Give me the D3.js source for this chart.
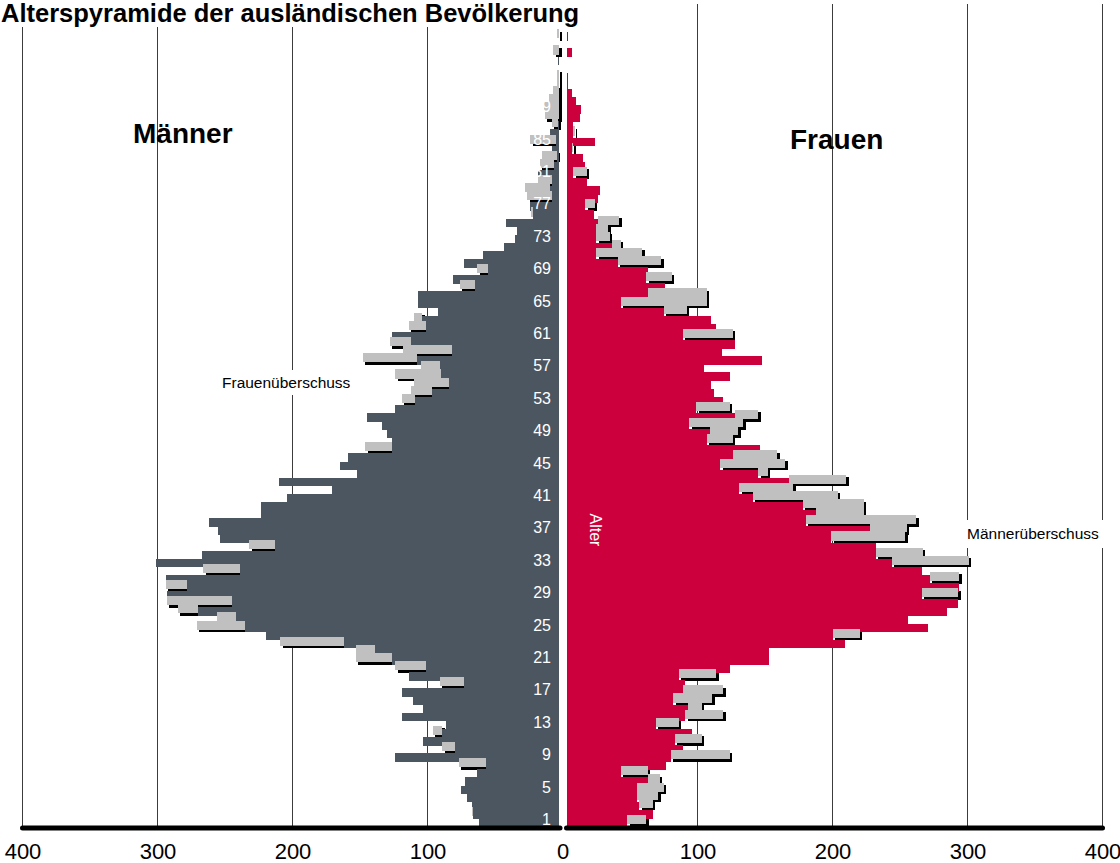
<!DOCTYPE html>
<html lang="de">
<head>
<meta charset="UTF-8">
<title>Alterspyramide der ausländischen Bevölkerung</title>
<script src="https://d3js.org/d3.v7.min.js"></script>
<style>
    body { margin: 0; background: #fff; font-family: "Liberation Sans", Arial, sans-serif; }
    svg { display: block; }
    .grid line { stroke: #3c3c3c; stroke-width: 1; }
    .bars rect { shape-rendering: crispEdges; }
    .age-label { fill: #fff; font-size: 16px; text-anchor: end; }
    .tick text { font-size: 22px; fill: #000; font-family: "Liberation Sans", Arial, sans-serif; }
    .side-title { font-size: 28px; font-weight: bold; }
    .note { font-size: 15.5px; }
</style>
</head>
<body>
<svg id="chart" width="1120" height="863"></svg>
<script>
// ages 1..98, one bar per age
const ages = d3.range(1, 99);
// foreign men per age (left side)
const men = [
    62, 66, 67, 71, 75, 72, 63, 57, 124, 80,
    103, 89, 86, 119, 103, 111, 119, 73, 114, 101,
    126, 139, 162, 220, 235, 242, 270, 245, 293, 278,
    294, 239, 301, 267, 213, 254, 255, 262, 223, 223,
    204, 171, 210, 152, 165, 159, 126, 126, 130, 134,
    145, 124, 109, 97, 84, 90, 91, 108, 82, 112,
    126, 101, 104, 92, 107, 107, 65, 81, 55, 73,
    59, 43, 35, 34, 42, 22, 24, 8, 9, 8,
    18, 6, 4, 8, 5, 9, 3, 2, 2, 2,
    1, 1, 1, 0, 3, 1, 2, 0
];
// foreign women per age (right side)
const women = [
    48, 67, 57, 55, 55, 63, 43, 77, 80, 89,
    83, 96, 69, 91, 93, 82, 89, 91, 86, 124,
    153, 153, 209, 200, 271, 256, 285, 293, 266, 294,
    272, 266, 244, 232, 232, 199, 228, 180, 188, 178,
    141, 131, 168, 145, 117, 126, 146, 107, 109, 94,
    128, 99, 119, 112, 110, 124, 105, 148, 118, 128,
    89, 114, 110, 75, 43, 63, 76, 62, 63, 41,
    25, 37, 25, 25, 26, 23, 17, 26, 28, 18,
    8, 17, 15, 7, 24, 8, 8, 13, 14, 10,
    7, 4, 4, 2, 2, 7, 1, 4
];
const ageLabels = d3.range(1, 99, 4);
const tickValues = [0, 100, 200, 300, 400];

const data = ages.map((a, i) => ({age: a, m: men[i], w: women[i]}));

const svg = d3.select("#chart");
const baseY = 826;
const rowH = 8.1;
const mid = 562.5;

const y = d3.scaleBand()
    .domain(ages)
    .range([baseY, baseY - ages.length * rowH])
    .padding(0);

const xL = d3.scaleLinear().domain([0, 400]).range([mid, 22.5]);
const xR = d3.scaleLinear().domain([0, 400]).range([mid, 1102.5]);
const leftEdge = mid - 3.5;   // dark bars stop here
const rightEdge = mid + 4;    // red bars start here
const barH = y.bandwidth() + 0.6; // slight overlap, no seams between rows

// gridlines
const grid = svg.append("g").attr("class", "grid");
tickValues.slice(1).forEach(v => {
    grid.append("line").attr("x1", xL(v)).attr("x2", xL(v)).attr("y1", 4).attr("y2", baseY);
    grid.append("line").attr("x1", xR(v)).attr("x2", xR(v)).attr("y1", 4).attr("y2", baseY);
});

// shadows of the surplus bars
const grayY = d => y(d.age) - 3;
const grayH = y.bandwidth() + 1;
const leftSurplus = data.filter(d => d.w > d.m);
const rightSurplus = data.filter(d => d.m > d.w);

svg.append("g").attr("class", "bars").selectAll("rect").data(leftSurplus).join("rect")
    .attr("x", d => xL(d.w) + 2.5)
    .attr("y", d => grayY(d) + 2.5)
    .attr("width", d => Math.min(xL(d.m), leftEdge) - xL(d.w))
    .attr("height", grayH)
    .attr("fill", "#000");
svg.append("g").attr("class", "bars").selectAll("rect").data(rightSurplus).join("rect")
    .attr("x", d => Math.max(xR(d.w), rightEdge) + 2.5)
    .attr("y", d => grayY(d) + 2.5)
    .attr("width", d => xR(d.m) - Math.max(xR(d.w), rightEdge))
    .attr("height", grayH)
    .attr("fill", "#000");

// men bars
svg.append("g").attr("class", "bars").selectAll("rect").data(data).join("rect")
    .attr("x", d => xL(d.m))
    .attr("y", d => y(d.age))
    .attr("width", d => Math.max(0, leftEdge - xL(d.m)))
    .attr("height", barH)
    .attr("fill", "#4c5661");

// women bars
svg.append("g").attr("class", "bars").selectAll("rect").data(data).join("rect")
    .attr("x", rightEdge)
    .attr("y", d => y(d.age))
    .attr("width", d => Math.max(0, xR(d.w) - rightEdge))
    .attr("height", barH)
    .attr("fill", "#cc003c");

// surplus bars: women surplus mirrored on the left, men surplus on the right
svg.append("g").attr("class", "bars").selectAll("rect").data(leftSurplus).join("rect")
    .attr("x", d => xL(d.w))
    .attr("y", grayY)
    .attr("width", d => Math.min(xL(d.m), leftEdge) - xL(d.w))
    .attr("height", grayH)
    .attr("fill", "#c0c0c0");
svg.append("g").attr("class", "bars").selectAll("rect").data(rightSurplus).join("rect")
    .attr("x", d => Math.max(xR(d.w), rightEdge))
    .attr("y", grayY)
    .attr("width", d => xR(d.m) - Math.max(xR(d.w), rightEdge))
    .attr("height", grayH)
    .attr("fill", "#c0c0c0");

// age labels
svg.append("g").selectAll("text").data(ageLabels).join("text")
    .attr("class", "age-label")
    .attr("x", 551)
    .attr("y", a => y(a) + y.bandwidth() / 2 + 3)
    .text(a => a);

// "Alter"
svg.append("text")
    .attr("transform", "translate(590,530) rotate(90)")
    .attr("text-anchor", "middle")
    .attr("fill", "#fff")
    .attr("font-size", 16)
    .text("Alter");

// thick base line
svg.append("line")
    .attr("x1", xL(400)).attr("x2", leftEdge + 1)
    .attr("y1", baseY + 2).attr("y2", baseY + 2)
    .attr("stroke", "#000").attr("stroke-width", 5).attr("stroke-linecap", "round");
svg.append("line")
    .attr("x1", rightEdge).attr("x2", xR(400))
    .attr("y1", baseY + 2).attr("y2", baseY + 2)
    .attr("stroke", "#000").attr("stroke-width", 5).attr("stroke-linecap", "round");

// tick labels
const axL = svg.append("g").attr("transform", `translate(0,${baseY + 12})`)
    .call(d3.axisBottom(xL).tickValues(tickValues.slice(1)).tickSize(0).tickPadding(0).tickFormat(d3.format("d")));
const axR = svg.append("g").attr("transform", `translate(0,${baseY + 12})`)
    .call(d3.axisBottom(xR).tickValues(tickValues).tickSize(0).tickPadding(0).tickFormat(d3.format("d")));
axL.select(".domain").remove();
axR.select(".domain").remove();
svg.selectAll(".tick text").attr("dy", "0.95em");

// title with white backing
svg.append("rect").attr("x", 0).attr("y", 0).attr("width", 600).attr("height", 27).attr("fill", "#fff");
svg.append("text")
    .attr("x", 1).attr("y", 22)
    .attr("font-size", 25.5).attr("font-weight", "bold")
    .text("Alterspyramide der ausländischen Bevölkerung");

svg.append("text").attr("class", "side-title").attr("x", 133).attr("y", 143).text("Männer");
svg.append("text").attr("class", "side-title").attr("x", 790).attr("y", 149).text("Frauen");

// surplus notes
svg.append("rect").attr("x", 218).attr("y", 370).attr("width", 142).attr("height", 25).attr("fill", "#fff");
svg.append("text").attr("class", "note").attr("x", 222).attr("y", 388).text("Frauenüberschuss");
svg.append("rect").attr("x", 963).attr("y", 520).attr("width", 150).attr("height", 28).attr("fill", "#fff");
svg.append("text").attr("class", "note").attr("x", 967).attr("y", 539).text("Männerüberschuss");
</script>
</body>
</html>
